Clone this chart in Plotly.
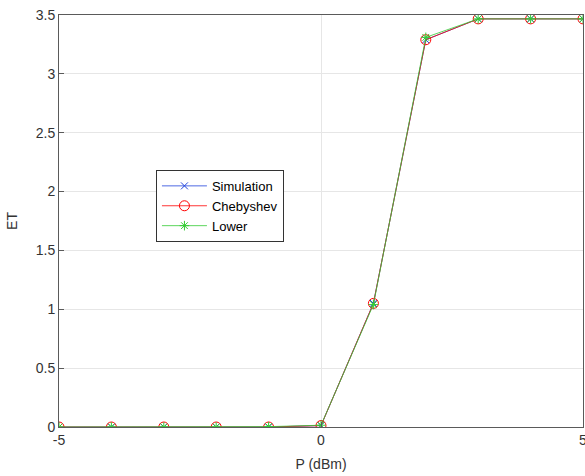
import plotly.graph_objects as go

p_dbm = [-5, -4, -3, -2, -1, 0, 1, 2, 3, 4, 5]
simulation = [0, 0, 0, 0, 0, 0.012, 1.05, 3.29, 3.467, 3.467, 3.467]
chebyshev = [0, 0, 0, 0, 0, 0.012, 1.05, 3.29, 3.467, 3.467, 3.467]
lower = [0, 0, 0, 0, 0.003, 0.015, 1.04, 3.31, 3.467, 3.467, 3.467]

x_ticks = [-5, 0, 5]
y_ticks = [0, 0.5, 1, 1.5, 2, 2.5, 3, 3.5]

fig = go.Figure()
fig.add_trace(go.Scatter(x=p_dbm, y=simulation, name="Simulation", mode="lines+markers",
                         line=dict(color="#2244dd", width=0.8),
                         marker=dict(symbol="x-thin-open", size=7, line=dict(color="#2244dd", width=1))))
fig.add_trace(go.Scatter(x=p_dbm, y=chebyshev, name="Chebyshev", mode="lines+markers",
                         line=dict(color="#ff0000", width=0.8),
                         marker=dict(symbol="circle-open", size=10, line=dict(color="#ff0000", width=1))))
fig.add_trace(go.Scatter(x=p_dbm, y=lower, name="Lower", mode="lines+markers",
                         line=dict(color="#33cc33", width=0.8),
                         marker=dict(symbol="asterisk-open", size=8, line=dict(color="#33cc33", width=1))))

axis_common = dict(showline=True, linecolor="#5a5a5a", linewidth=1, mirror=True,
                   ticks="inside", ticklen=5, tickcolor="#5a5a5a",
                   showgrid=True, gridcolor="#e6e6e6", gridwidth=1, zeroline=False,
                   tickfont=dict(family="Liberation Sans, Arial", size=14, color="#333333"),
                   title_font=dict(family="Liberation Sans, Arial", size=14, color="#333333"))

fig.update_xaxes(range=[-5, 5], tickvals=x_ticks, ticktext=[str(v) for v in x_ticks],
                 title_text="P (dBm)", title_standoff=12, automargin=False,
                 ticklabeloverflow="allow", **axis_common)
fig.update_yaxes(range=[0, 3.5], tickvals=y_ticks, ticktext=["0", "0.5", "1", "1.5", "2", "2.5", "3", "3.5"],
                 title_text="ET", title_standoff=14, **axis_common)

fig.update_layout(
    width=585, height=476,
    margin=dict(l=59, r=2, t=15, b=49),
    plot_bgcolor="white", paper_bgcolor="white",
    font=dict(family="Liberation Sans, Arial", size=14, color="#333333"),
    legend=dict(x=0.185, y=0.624, xanchor="left", yanchor="top",
                bgcolor="white", bordercolor="#333333", borderwidth=1,
                font=dict(family="Liberation Sans, Arial", size=13, color="#000000"),
                tracegroupgap=0, itemwidth=45),
    showlegend=True,
)

fig.write_html("out.html", post_script="document.body.style.margin='0';",
               config={"displayModeBar": False})
